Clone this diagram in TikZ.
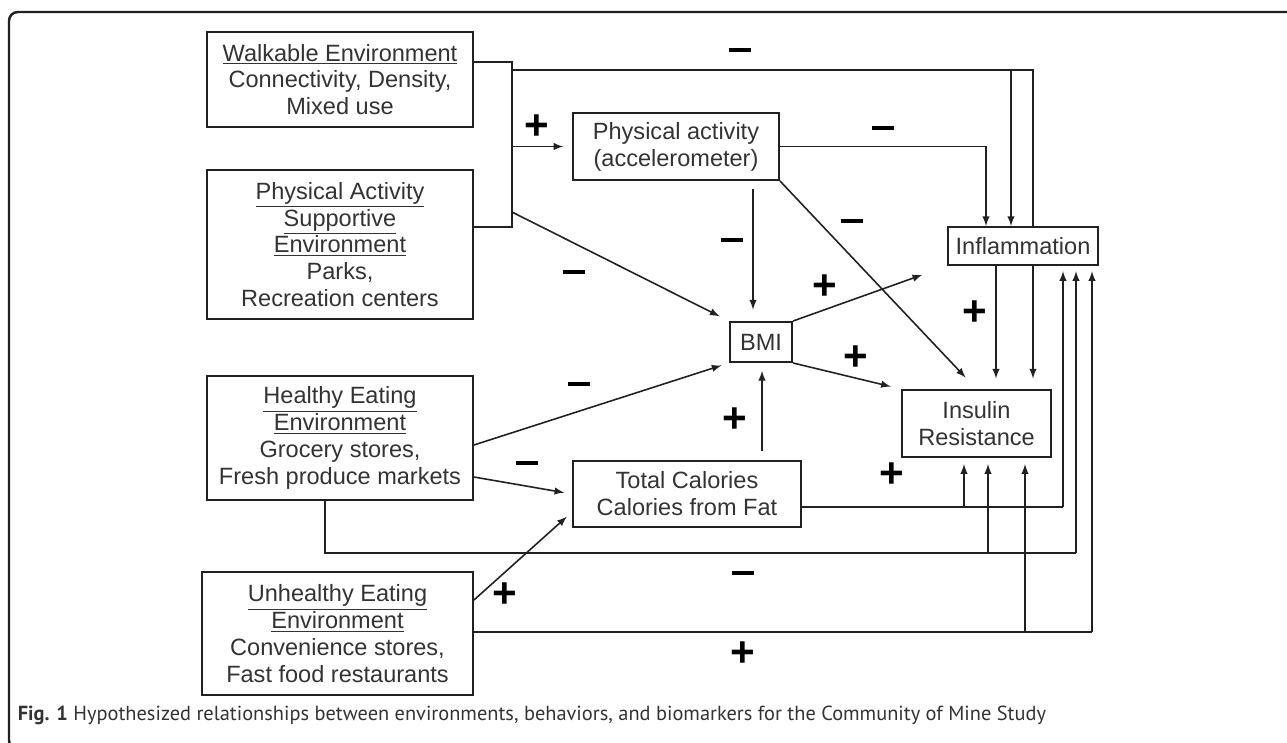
\documentclass[tikz,border=0pt]{standalone}
\usepackage{fontspec}
\setmainfont{Liberation Sans}
\newfontfamily\capfont{PT Sans}
\usetikzlibrary{arrows,calc,positioning}
\definecolor{ink}{rgb}{0.13,0.13,0.13}
\definecolor{txt}{rgb}{0.2,0.2,0.2}

\begin{document}
\begin{tikzpicture}[x=0.02cm,y=-0.02cm,line width=0.9pt,color=ink,>=latex,
    box/.style={draw=ink,line width=1.1pt,align=center,inner sep=0pt,text=txt,
      font=\fontsize{13.4}{15.3}\selectfont},
    sign/.style={inner sep=0pt,text=black,font=\fontsize{24}{24}\bfseries\selectfont}]
        \useasboundingbox (0,0) rectangle (1287,743);
        \draw[line width=1.4pt,rounded corners=5pt] (1320,749) -- (9,749) -- (9,12) -- (1320,12);
        %%%%%%%%%%%%%%%%%%%%%%%%%%%boxes%%%%%%%%%%%%%%%%%%%%%%
          \node[minimum width=5.32cm,minimum height=1.90cm] (walk) at (340,79.5) [box]
          {\underline{Walkable Environment}\\Connectivity, Density,\\Mixed use};
          \node[minimum width=5.32cm,minimum height=2.98cm] (supp) at (340,244.5) [box]
          {\underline{Physical Activity}\\\underline{Supportive}\\\underline{Environment}\\Parks,\\Recreation centers};
          \node[minimum width=5.32cm,minimum height=2.48cm] (healthy) at (340,438) [box]
          {\underline{Healthy Eating}\\\underline{Environment}\\Grocery stores,\\Fresh produce markets};
          \node[minimum width=5.42cm,minimum height=2.46cm] (unh) at (337.5,633.5) [box]
          {\underline{Unhealthy Eating}\\\underline{Environment}\\Convenience stores,\\Fast food restaurants};
          \node[minimum width=4.12cm,minimum height=1.34cm] (pa) at (676,146.5) [box]
          {Physical activity\\(accelerometer)};
          \node[minimum width=3.00cm,minimum height=0.76cm] (infl) at (1023,246) [box] {Inflammation};
          \node[minimum width=1.24cm,minimum height=0.80cm] (bmi) at (761,342) [box] {BMI};
          \node[minimum width=2.98cm,minimum height=1.34cm] (ins) at (976.5,423.5) [box]
          {Insulin\\Resistance};
          \node[minimum width=4.56cm,minimum height=1.32cm] (cal) at (687,494) [box]
          {Total Calories\\Calories from Fat};

        %%%%%%%%%%%%%%%%%%%%%%%%%%%lanes%%%%%%%%%%%%%%%%%%%%%%
          \coordinate (bw) at (512,62);
          \coordinate (bs) at (512,227);
          \coordinate (bd) at (512,212);
          \coordinate (tl) at (512,70);
          \coordinate (tm) at (1011,70);
          \coordinate (tr) at (1033,70);
          \coordinate (pl) at (986,0);
          \coordinate (pb) at (753,0);
          \coordinate (il) at (996,0);
          \coordinate (cb) at (762,0);
          \coordinate (c1) at (964,507);
          \coordinate (c2) at (1063,507);
          \coordinate (h0) at (325,553);
          \coordinate (h1) at (988,553);
          \coordinate (h2) at (1076,553);
          \coordinate (u1) at (1025,632);
          \coordinate (u2) at (1092,632);

        %%%%%%%%%%%%%%%%%%%%%%%%%%%activity environments%%%%%%%%%%%%%%%%%%%%%%
          \draw (walk.east |- bw) -- (bw) -- (bs) -- (supp.east |- bs);
          \draw[->,shorten >=5pt] (pa.west -| bw) -- (pa.west);
          \draw[->,shorten >=6pt] (bd) -- (bmi.north west);
          \draw (tl) -- (tr) -- (tr |- infl.north);
          \draw[->] (tm) -- (tm |- infl.north);
          \draw[->,shorten >=6pt] (tr |- infl.south) -- (tr |- ins.north);

        %%%%%%%%%%%%%%%%%%%%%%%%%%%behaviours%%%%%%%%%%%%%%%%%%%%%%
          \draw[->] (pa.east) -| (pl |- infl.north);
          \draw[->,shorten <=4.5pt,shorten >=6.5pt] (pb |- pa.south) -- (pb |- bmi.north);
          \draw[->,shorten >=9pt] (pa.south east) -- (ins.north);
          \draw[->,shorten >=15pt] (bmi.north east) -- (infl.south west);
          \draw[->,shorten >=6pt] (bmi.south east) -- (ins.north west);
          \draw[->,shorten >=6pt] (il |- infl.south) -- (il |- ins.north);
          \draw[->,shorten <=5pt,shorten >=4.5pt] (cb |- cal.north) -- (cb |- bmi.south);
          \draw (cal.east |- c1) -- (c2);
          \draw[->,shorten >=3pt] (c2) -- (c2 |- infl.south);
          \draw[->,shorten >=3.5pt] (c1) -- (c1 |- ins.south);

        %%%%%%%%%%%%%%%%%%%%%%%%%%%eating environments%%%%%%%%%%%%%%%%%%%%%%
          \draw[->,shorten >=4.5pt] ($(healthy.east)+(0,39)$) -- (cal.west);
          \draw[->,shorten >=4.5pt] ($(healthy.east)+(0,7)$) -- (bmi.south west);
          \draw[->,shorten >=4pt] ($(unh.east)+(0,-33.5)$) -- ($(cal.west)+(0,18)$);
          \draw (healthy.south -| h0) -- (h0) -- (h2);
          \draw[->,shorten >=3pt] (h2) -- (h2 |- infl.south);
          \draw[->,shorten >=3.5pt] (h1) -- (h1 |- ins.south);
          \draw (unh.east |- u1) -- (u2);
          \draw[->,shorten >=3pt] (u2) -- (u2 |- infl.south);
          \draw[->,shorten >=3.5pt] (u1) -- (u1 |- ins.south);

        %%%%%%%%%%%%%%%%%%%%%%%%%%%signs%%%%%%%%%%%%%%%%%%%%%%
          \node (sg1) at (740,50) [sign] {\rule{13pt}{2.3pt}};
          \node (sg2) at (537,127) [sign] {+};
          \node (sg3) at (883,128) [sign] {\rule{13pt}{2.3pt}};
          \node (sg4) at (732,240) [sign] {\rule{13pt}{2.3pt}};
          \node (sg5) at (852,221) [sign] {\rule{13pt}{2.3pt}};
          \node (sg6) at (574,272) [sign] {\rule{13pt}{2.3pt}};
          \node (sg7) at (825,287) [sign] {+};
          \node (sg8) at (856,358) [sign] {+};
          \node (sg9) at (975,313) [sign] {+};
          \node (sg10) at (579,384) [sign] {\rule{13pt}{2.3pt}};
          \node (sg11) at (735,420) [sign] {+};
          \node (sg12) at (527,463) [sign] {\rule{13pt}{2.3pt}};
          \node (sg13) at (892,475) [sign] {+};
          \node (sg14) at (743,573) [sign] {\rule{13pt}{2.3pt}};
          \node (sg15) at (505,595) [sign] {+};
          \node (sg16) at (743,654) [sign] {+};

          \node[anchor=base west,inner sep=0pt,text=txt,font=\capfont\fontsize{11.6}{14}\selectfont] (cap) at (17,720)
          {\textbf{Fig. 1} Hypothesized relationships between environments, behaviors, and biomarkers for the Community of Mine Study};
        \end{tikzpicture}
\end{document}
